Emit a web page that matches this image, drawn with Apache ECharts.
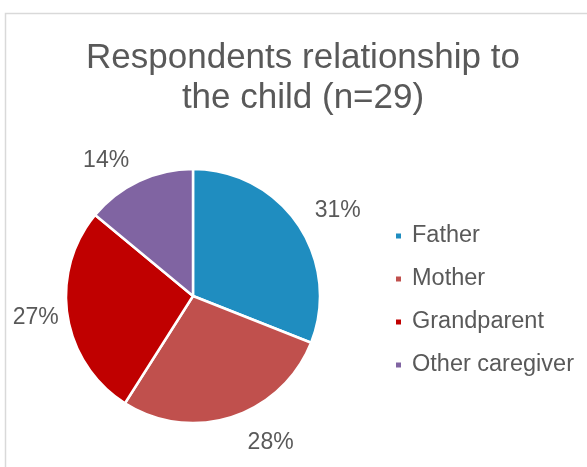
<!DOCTYPE html>
<html><head><meta charset="utf-8">
<script src="https://cdn.jsdelivr.net/npm/echarts@6/dist/echarts.min.js"></script>
<style>html,body{margin:0;padding:0;background:#fff;}#c{width:587px;height:467px;}</style>
</head><body><div id="c"></div>
<script>
const titleText = 'Respondents relationship to\nthe child (n=29)';
const categories = ['Father', 'Mother', 'Grandparent', 'Other caregiver'];
const percentages = [31, 28, 27, 14];
const colors = ['#1F8DC0', '#C0504D', '#C00000', '#8064A2'];

const labelLen = [25, 27, 12, 23];
const labelLen2 = [-4, 7, -3, 0];

const chart = echarts.init(document.getElementById('c'), null, {renderer: 'canvas'});
const font = 'Liberation Sans, Arial, sans-serif';
chart.setOption({
  animation: false,
  backgroundColor: '#fff',
  graphic: [{
    type: 'rect', shape: {x: 5.5, y: 13.5, width: 700, height: 600},
    style: {fill: 'none', stroke: '#D9D9D9', lineWidth: 1.5}, silent: true, z: -1
  }],
  title: {
    text: titleText, left: 298, top: 33, textAlign: 'center',
    textStyle: {fontFamily: font, fontSize: 35, fontWeight: 'normal', color: '#595959', lineHeight: 40}
  },
  legend: {
    orient: 'vertical', left: 394, top: 224, itemWidth: 7, itemHeight: 7, itemGap: 19, padding: 0,
    icon: 'rect',
    textStyle: {fontFamily: font, fontSize: 23.5, color: '#595959', lineHeight: 23, padding: [0,0,0,5]},
    data: categories
  },
  series: [{
    type: 'pie', center: [193, 296], radius: 127, startAngle: 90, clockwise: true,
    avoidLabelOverlap: false,
    itemStyle: {borderColor: '#fff', borderWidth: 2.5},
    label: {show: true, position: 'outside', formatter: '{c}%', fontFamily: font, fontSize: 23, color: '#595959', distanceToLabelLine: 0},
    labelLine: {show: false, length: 25, length2: 0},
    emphasis: {disabled: true},
    data: categories.map((n, i) => ({
      name: n, value: percentages[i], itemStyle: {color: colors[i]},
      labelLine: {show: false, length: labelLen[i], length2: labelLen2[i]}
    }))
  }]
});
</script></body></html>
